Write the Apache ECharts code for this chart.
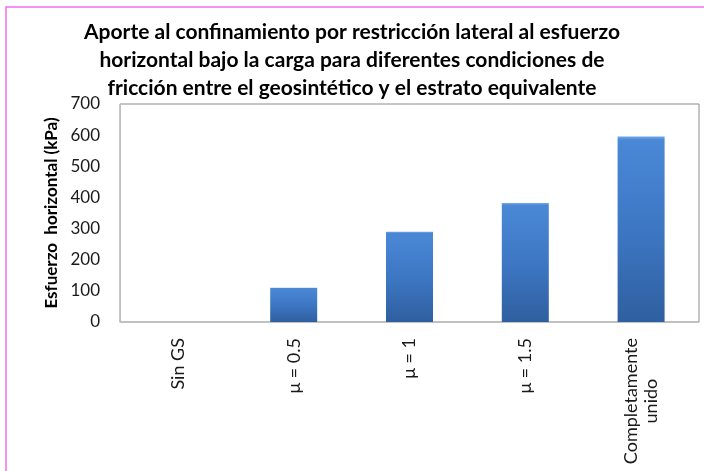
<!DOCTYPE html>
<html>
<head>
<meta charset="utf-8">
<script src="https://cdn.jsdelivr.net/npm/echarts@6/dist/echarts.min.js"></script>
<style>
  html, body { margin: 0; padding: 0; background: #fff; }
  #chart { width: 704px; height: 471px; }
</style>
</head>
<body>
<div id="chart"></div>
<script>
// categorías y valores
const categories = ['Sin GS', 'μ = 0.5', 'μ = 1', 'μ = 1.5', 'Completamente\nunido'];
const esfuerzo = [0, 110, 290, 382, 596];
const yTicks = { min: 0, max: 700, interval: 100 };

const chart = echarts.init(document.getElementById('chart'));

const barColor = new echarts.graphic.LinearGradient(0, 0, 0, 1, [
  { offset: 0, color: '#6fa8ea' },
  { offset: 0.02, color: '#4a88d6' },
  { offset: 0.5, color: '#3d77c4' },
  { offset: 1, color: '#2f5f9f' }
]);

chart.setOption({
  backgroundColor: '#fff',
  textStyle: { fontFamily: 'Lato' },
  title: {
    text: 'Aporte al confinamiento por restricción lateral al esfuerzo\nhorizontal bajo la carga para diferentes condiciones de\nfricción entre el geosintético y el estrato equivalente',
    left: 'center',
    top: 13,
    textStyle: {
      fontFamily: 'Lato',
      fontSize: 21,
      fontWeight: 'bold',
      lineHeight: 28,
      color: '#000'
    }
  },
  graphic: [{
    type: 'polyline',
    shape: { points: [[6, 471], [6, 7], [704, 7]] },
    style: { stroke: '#ef6ff0', lineWidth: 1.5, fill: null },
    silent: true
  }],
  grid: {
    left: 120,
    top: 104,
    right: 5,
    bottom: 149,
    show: true,
    borderColor: '#8c8c8c',
    borderWidth: 1,
    backgroundColor: 'transparent'
  },
  xAxis: {
    type: 'category',
    data: categories,
    axisLine: { show: true, lineStyle: { color: '#c0c0c0', width: 1.5 } },
    axisTick: { show: false },
    axisLabel: {
      rotate: 90,
      margin: 16,
      interval: 0,
      color: '#1a1a1a',
      fontSize: 18,
      formatter: function (v) {
        return v.split('\n').map(s => '{a|' + s + '}').join('\n');
      },
      rich: { a: { fontSize: 18, color: '#1a1a1a', align: 'center', lineHeight: 20, fontFamily: 'Lato' } }
    }
  },
  yAxis: {
    type: 'value',
    min: yTicks.min,
    max: yTicks.max,
    interval: yTicks.interval,
    name: 'Esfuerzo  horizontal (kPa)',
    nameLocation: 'middle',
    nameGap: 60,
    nameTextStyle: { fontSize: 17, fontWeight: 'bold', color: '#000', fontFamily: 'Lato' },
    axisLine: { show: true, lineStyle: { color: '#c0c0c0' } },
    axisTick: { show: false },
    splitLine: { show: false },
    axisLabel: { fontSize: 17, color: '#1a1a1a', margin: 20 }
  },
  series: [{
    type: 'bar',
    data: esfuerzo,
    barWidth: 47,
    itemStyle: {
      color: barColor,
      shadowColor: 'rgba(0,0,0,0.25)',
      shadowBlur: 3,
      shadowOffsetX: 1
    },
    silent: true
  }]
});
</script>
</body>
</html>
